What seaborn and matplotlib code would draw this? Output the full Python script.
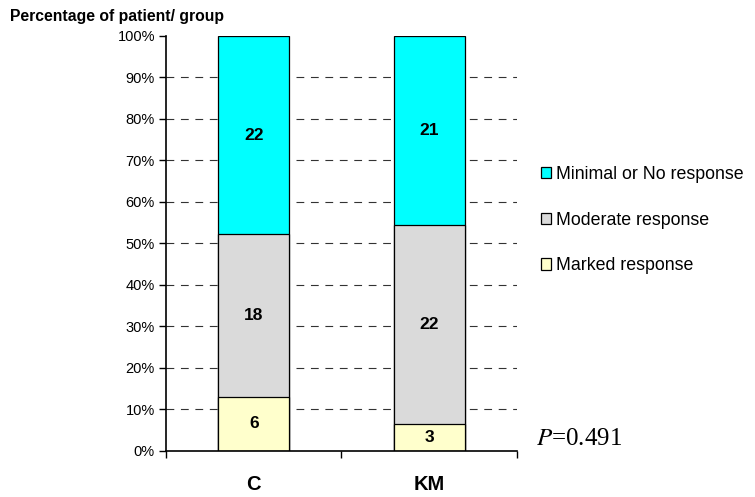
import matplotlib
matplotlib.use("Agg")
import matplotlib.pyplot as plt
from matplotlib.patches import Patch
import numpy as np
import pandas as pd
import seaborn as sns

# Patient counts per response category in each group
groups = ["C", "KM"]
marked = [6, 3]
moderate = [18, 22]
minimal = [22, 21]
categories = ["Minimal or No response", "Moderate response", "Marked response"]
colors = {"Minimal or No response": "#00ffff",
          "Moderate response": "#dadada",
          "Marked response": "#ffffcc"}
yticks = list(range(0, 101, 10))
p_text = "=0.491"

sns.set_theme(style="white")
plt.rcParams["font.family"] = ["Liberation Sans", "DejaVu Sans"]
plt.rcParams.update({"text.color": "black", "axes.labelcolor": "black",
                     "xtick.color": "black", "ytick.color": "black"})

counts = np.array([marked, moderate, minimal], dtype=float)
totals = counts.sum(axis=0)
pct = counts / totals * 100
cum = np.cumsum(pct, axis=0)  # marked, marked+moderate, all

df = pd.DataFrame({
    "group": groups * 3,
    "segment": ["Marked response"] * 2 + ["Moderate response"] * 2 + ["Minimal or No response"] * 2,
    "top": np.concatenate([cum[0], cum[1], cum[2]]),
    "pct": np.concatenate([pct[0], pct[1], pct[2]]),
    "count": np.concatenate([counts[0], counts[1], counts[2]]),
})

fig = plt.figure(figsize=(7.55, 4.97), dpi=100)
ax = fig.add_axes([0.2199, 0.0926, 0.4645, 0.835])

# Stacked bars: draw the cumulative heights from tallest to shortest
for seg in ["Minimal or No response", "Moderate response", "Marked response"]:
    sub = df[df["segment"] == seg]
    sns.barplot(data=sub, x="group", y="top", order=groups, color=colors[seg],
                width=0.405, edgecolor="black", linewidth=0.9, saturation=1,
                ax=ax, zorder=3)

# Count labels centred in each segment
for _, row in df.iterrows():
    xi = groups.index(row["group"])
    ax.text(xi, row["top"] - row["pct"] / 2, f"{int(row['count'])}",
            ha="center", va="center", fontsize=12.5, fontweight="bold",
            color="black", zorder=5)

ax.set_xlim(-0.5, 1.5)
ax.set_ylim(0, 100)
ax.set_yticks(yticks)
ax.set_yticklabels([f"{v}%" for v in yticks], fontsize=10.5)
ax.set_xticks([0, 1])
ax.set_xticklabels(groups, fontsize=14.5, fontweight="bold")
ax.set_xticks([-0.5, 0.5, 1.5], minor=True)
ax.tick_params(axis="x", which="major", length=0, pad=17)
ax.tick_params(axis="x", which="minor", length=5, width=1, color="black", direction="out", bottom=True)
ax.tick_params(axis="y", which="major", length=5, width=1, color="black", direction="out", left=True, pad=3)
ax.set_xlabel("")
ax.set_ylabel("")

for y in yticks[1:-1]:
    ax.axhline(y, color="#333333", linewidth=0.8, linestyle=(0, (7, 6)), zorder=1)

for side in ["top", "right"]:
    ax.spines[side].set_visible(False)
for side in ["left", "bottom"]:
    ax.spines[side].set_color("black")
    ax.spines[side].set_linewidth(1.2)
ax.spines["bottom"].set_zorder(6)

fig.text(10 / 755, 1 - 16 / 497, "Percentage of patient/ group", fontsize=11.3,
         fontweight="bold", ha="left", va="center", color="black")

handles = [Patch(facecolor=colors[c], edgecolor="black", linewidth=0.9) for c in categories]
leg = fig.legend(handles, categories, loc="center left", bbox_to_anchor=(541 / 755, 1 - 220 / 497),
                 frameon=False, fontsize=12.8, handlelength=0.58, handleheight=0.58,
                 handletextpad=0.25, labelspacing=1.62, borderaxespad=0, borderpad=0)
for t in leg.get_texts():
    t.set_color("black")

fig.text(536 / 755, 1 - 439 / 497, "$\\mathit{P}$" + p_text, fontsize=18,
         family=["Liberation Serif", "DejaVu Serif"], math_fontfamily="stix",
         ha="left", va="center", color="black")

fig.savefig("out.png", dpi=100)
